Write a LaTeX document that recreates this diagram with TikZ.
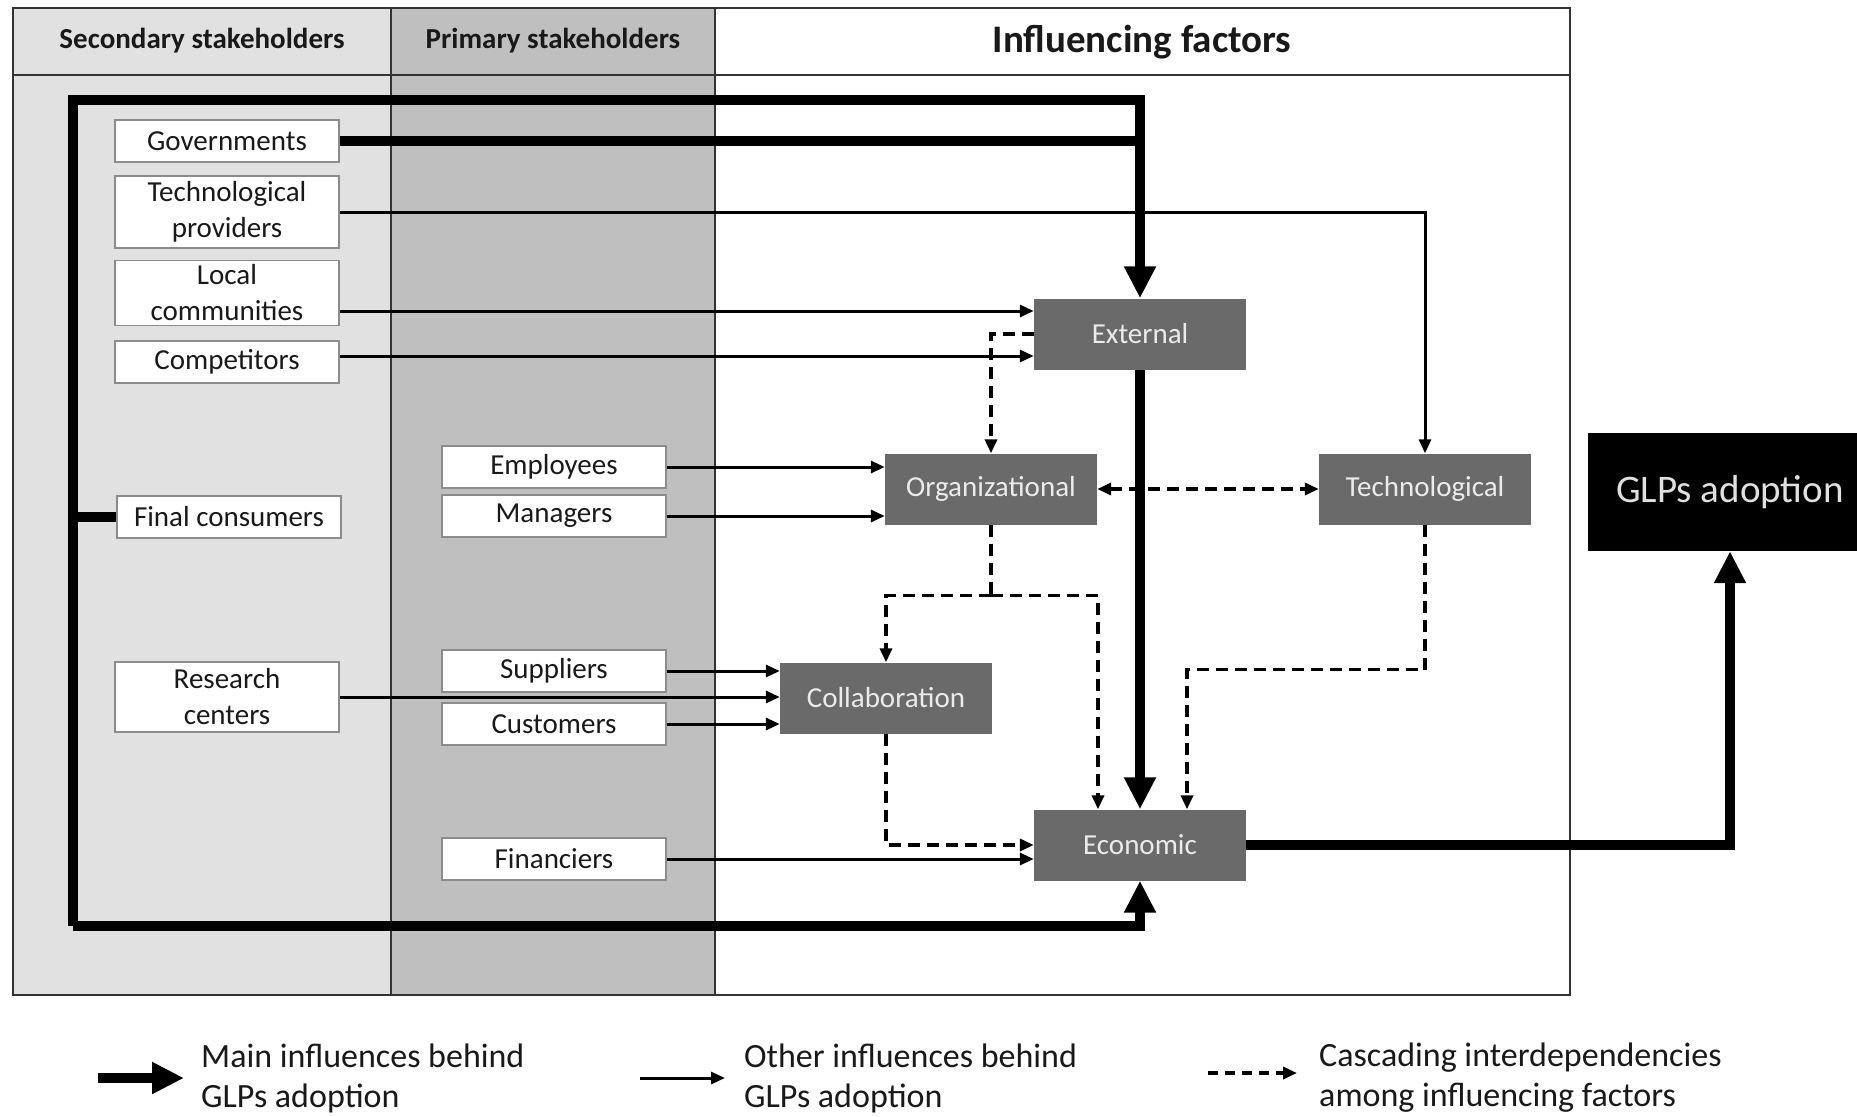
\documentclass[tikz,border=0pt]{standalone}
\usepackage{fontspec}
\setmainfont{Carlito}
\usetikzlibrary{calc, arrows.meta}
\definecolor{secgray}{HTML}{E1E1E1}
\definecolor{prigray}{HTML}{BFBFBF}
\definecolor{facgray}{HTML}{6A6A6A}
\tikzset{
    stake/.style={draw=black!45, line width=1.5pt, fill=white, text=black!90, minimum width=224pt, minimum height=42pt, inner sep=0pt, align=center, font=\fontsize{29}{36}\selectfont},
    factor/.style={fill=facgray, text=white!92!black, minimum width=212pt, minimum height=71pt, inner sep=0pt, font=\fontsize{29}{36}\selectfont},
    header/.style={font=\bfseries\fontsize{29}{36}\selectfont, text=black!90},
    frame/.style={draw=black!80, line width=2pt},
    main/.style={line width=10pt},
    mainarrow/.style={main, -{Triangle[length=32pt, width=30pt]}},
    other/.style={line width=3pt, -{Triangle[length=14pt, width=12pt]}},
    cascadeline/.style={line width=3.5pt, dash pattern=on 12pt off 7pt},
    cascade/.style={cascadeline, -{Triangle[length=14pt, width=12pt]}},
    legendtext/.style={anchor=west, align=left, inner sep=0pt, font=\fontsize{34}{40}\selectfont, text=black!90},
    common settings/.style={x=1pt, y=-1pt}
}

\begin{document}
\begin{tikzpicture}[common settings]

    \def\xs{227}  % secondary column centre
    \def\xp{554}  % primary column centre

    \useasboundingbox (0,0) rectangle (1857,1116);
    \clip (0,0) rectangle (1857,1116);

    % Columns
    \fill[secgray] (13,8) rectangle (391,995);
    \fill[prigray] (391,8) rectangle (715,995);
    \draw[frame] (13,8) rectangle (1570,995);
    \draw[frame] (13,75) -- (1570,75);
    \draw[frame] (391,8) -- (391,995);
    \draw[frame] (715,8) -- (715,995);

    \node[header] (hsec) at (202,41) {Secondary stakeholders};
    \node[header] (hpri) at (553,41) {Primary stakeholders};
    \node[header, font=\bfseries\fontsize{39}{46}\selectfont] (hfac) at (1142,42) {Influencing factors};

    % Secondary stakeholders
    \node[stake] (gov) at (\xs,141) {Governments};
    \node[stake, minimum height=72pt] (tp) at (\xs,212) {Technological\\providers};
    \node[stake, minimum height=65pt] (loc) at (\xs,293) {Local\\communities};
    \node[stake] (comp) at (\xs,362) {Competitors};
    \node[stake] (fc) at (229,517) {Final consumers};
    \node[stake, minimum height=70pt] (rc) at (\xs,697) {Research\\centers};

    % Primary stakeholders
    \node[stake] (emp) at (\xp,467) {Employees};
    \node[stake] (man) at (\xp,516) {Managers};
    \node[stake] (sup) at (\xp,671) {Suppliers};
    \node[stake] (cus) at (\xp,724) {Customers};
    \node[stake] (fin) at (\xp,859) {Financiers};

    % Influencing factors
    \node[factor] (ext) at (1140,334) {External};
    \node[factor] (org) at (991,489) {Organizational};
    \node[factor] (tech) at (1425,489) {Technological};
    \node[factor] (col) at (886,698) {Collaboration};
    \node[factor] (eco) at (1140,845) {Economic};

    \node[fill=black, text=white!88!black, minimum width=284pt, minimum height=118pt, font=\fontsize{39}{46}\selectfont] (glp) at (1730,492) {GLPs adoption};

    % Main influences
    \coordinate (looptop) at (73,100);
    \coordinate (loopbot) at (73,926);
    \draw[mainarrow] (loopbot) -- (looptop) -| (ext.north);
    \draw[mainarrow] (loopbot) -| (eco.south);
    \draw[main] (fc.west) -- (fc.west -| looptop);
    \draw[main] (gov.east) -- (gov.east -| ext.north);
    \draw[mainarrow] (ext.south) -- (eco.north);
    \draw[mainarrow] (eco.east) -| (glp.south);

    % Other influences
    \coordinate (extin1) at ([yshift=23pt]ext.west);
    \coordinate (extin2) at ([yshift=-22pt]ext.west);
    \draw[other] (tp.east) -| (tech.north);
    \draw[other] (loc.east |- extin1) -- (extin1);
    \draw[other] (comp.east |- extin2) -- (extin2);
    \draw[other] (emp.east) -- (emp.east -| org.west);
    \draw[other] (man.east) -- (man.east -| org.west);
    \draw[other] (sup.east) -- (sup.east -| col.west);
    \draw[other] (rc.east) -- (rc.east -| col.west);
    \draw[other] (cus.east) -- (cus.east -| col.west);
    \draw[other] (fin.east) -- (fin.east -| eco.west);

    % Cascading interdependencies
    \draw[cascade] (ext.west) -| (org.north);
    \draw[cascade, {Triangle[length=14pt, width=12pt]}-{Triangle[length=14pt, width=12pt]}] (org.east) -- (tech.west);
    \draw[cascadeline] (org.south) -- ++(0,71) coordinate (split);
    \draw[cascade] (split) -| (col.north);
    \draw[cascade] (split) -| ([xshift=-42pt]eco.north);
    \draw[cascade] (tech.south) -- ++(0,145) -| ([xshift=47pt]eco.north);
    \draw[cascade] (col.south) |- (eco.west);

    % Legend
    \coordinate (lgmaina) at (98,1078);
    \coordinate (lgmainb) at (184,1078);
    \coordinate (lgothera) at (640,1078);
    \coordinate (lgotherb) at (725,1078);
    \coordinate (lgcasca) at (1208,1073);
    \coordinate (lgcascb) at (1297,1073);
    \draw[mainarrow] (lgmaina) -- (lgmainb);
    \draw[other] (lgothera) -- (lgotherb);
    \draw[cascade, dash pattern=on 10pt off 7pt] (lgcasca) -- (lgcascb);
    \node[legendtext] (lgmain) at (201,1078) {Main influences behind\\GLPs adoption};
    \node[legendtext] (lgother) at (744,1078) {Other influences behind\\GLPs adoption};
    \node[legendtext] (lgcasc) at (1319,1078) {Cascading interdependencies\\among influencing factors};

\end{tikzpicture}
\end{document}
